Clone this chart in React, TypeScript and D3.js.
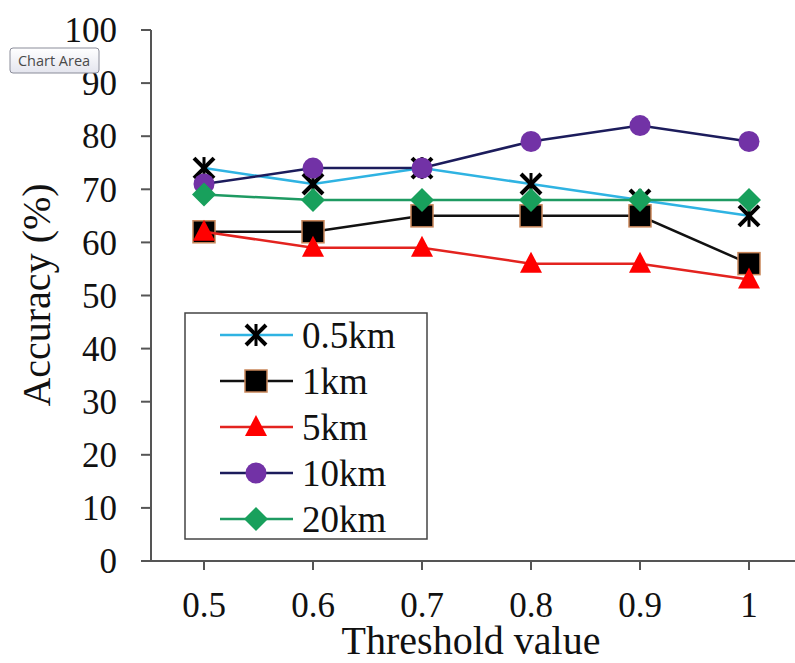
import React from 'react';
import * as d3 from 'd3';

const thresholds = ['0.5', '0.6', '0.7', '0.8', '0.9', '1'];
const yTicks = [0, 10, 20, 30, 40, 50, 60, 70, 80, 90, 100];

const seriesNames = ['0.5km', '1km', '5km', '10km', '20km'];
const acc05km = [74, 71, 74, 71, 68, 65];
const acc1km = [62, 62, 65, 65, 65, 56];
const acc5km = [62, 59, 59, 56, 56, 53];
const acc10km = [71, 74, 74, 79, 82, 79];
const acc20km = [69, 68, 68, 68, 68, 68];

type MarkerKind = 'star' | 'square' | 'triangle' | 'circle' | 'diamond';

const styles: { line: string; marker: MarkerKind }[] = [
  { line: '#2fb3e2', marker: 'star' },
  { line: '#111111', marker: 'square' },
  { line: '#e3231f', marker: 'triangle' },
  { line: '#1c1c5c', marker: 'circle' },
  { line: '#1e9a62', marker: 'diamond' },
];

const allValues = [acc05km, acc1km, acc5km, acc10km, acc20km];

const FONT = '"Liberation Serif", "Times New Roman", serif';

const Marker: React.FC<{ kind: MarkerKind; x: number; y: number }> = ({ kind, x, y }) => {
  switch (kind) {
    case 'star':
      return (
        <g stroke="#000" strokeWidth={4}>
          <line x1={x - 10} y1={y - 10} x2={x + 10} y2={y + 10} />
          <line x1={x - 10} y1={y + 10} x2={x + 10} y2={y - 10} />
          <line x1={x} y1={y - 11} x2={x} y2={y + 11} strokeWidth={3} />
        </g>
      );
    case 'square':
      return <rect x={x - 11} y={y - 11} width={22} height={22} fill="#000" stroke="#c9865a" strokeWidth={1.5} />;
    case 'triangle':
      return <path d={`M${x},${y - 12} L${x + 11},${y + 9} L${x - 11},${y + 9} Z`} fill="#ff0000" />;
    case 'circle':
      return <circle cx={x} cy={y} r={10.5} fill="#7232a6" />;
    case 'diamond':
      return <path d={`M${x},${y - 12} L${x + 12},${y} L${x},${y + 12} L${x - 12},${y} Z`} fill="#18a05c" />;
  }
};

const App: React.FC = () => {
  const width = 795;
  const height = 663;

  const x = d3.scalePoint<string>().domain(thresholds).range([204, 749]);
  const y = d3.scaleLinear().domain([0, 100]).range([561, 30]);

  const line = d3
    .line<number>()
    .x((_, i) => x(thresholds[i]) as number)
    .y((d) => y(d));

  const legendX = 185;
  const legendY = 313;
  const rowGap = 46;

  return (
    <svg
      width={width}
      height={height}
      style={{ position: 'absolute', left: 0, top: 0, background: '#fff' }}
      fontFamily={FONT}
    >
      {/* axes */}
      <line x1={151} y1={y(100)} x2={151} y2={y(0)} stroke="#555" strokeWidth={2} />
      <line x1={151} y1={y(0)} x2={795} y2={y(0)} stroke="#555" strokeWidth={2} />
      {yTicks.map((t) => (
        <g key={t}>
          <line x1={141} y1={y(t)} x2={151} y2={y(t)} stroke="#555" strokeWidth={2} />
          <text x={117} y={y(t)} dy="0.35em" textAnchor="end" fontSize={35} fill="#111">
            {t}
          </text>
        </g>
      ))}
      {thresholds.map((t) => (
        <g key={t}>
          <line x1={x(t)} y1={y(0)} x2={x(t)} y2={y(0) + 9} stroke="#555" strokeWidth={2} />
          <text x={x(t)} y={617} textAnchor="middle" fontSize={35} fill="#111">
            {t}
          </text>
        </g>
      ))}
      <text
        transform={`translate(50, 295) rotate(-90)`}
        textAnchor="middle"
        fontSize={40}
        fill="#111"
      >
        Accuracy (%)
      </text>
      <text x={471} y={654} textAnchor="middle" fontSize={40} fill="#111">
        Threshold value
      </text>

      {/* series */}
      {allValues.map((vals, si) => (
        <g key={seriesNames[si]}>
          <path d={line(vals) ?? ''} fill="none" stroke={styles[si].line} strokeWidth={2.5} />
          {vals.map((v, i) => (
            <Marker key={i} kind={styles[si].marker} x={x(thresholds[i]) as number} y={y(v)} />
          ))}
        </g>
      ))}

      {/* legend */}
      <rect x={legendX} y={legendY} width={242} height={226} fill="#fff" stroke="#444" strokeWidth={1.5} />
      {seriesNames.map((name, si) => {
        const cy = legendY + 22 + si * rowGap;
        return (
          <g key={name}>
            <line x1={220} y1={cy} x2={293} y2={cy} stroke={styles[si].line} strokeWidth={2.5} />
            <Marker kind={styles[si].marker} x={256} y={cy} />
            <text x={302} y={cy} dy="0.35em" fontSize={37} fill="#111">
              {name}
            </text>
          </g>
        );
      })}

      {/* "Chart Area" tooltip */}
      <defs>
        <linearGradient id="tipGrad" x1="0" y1="0" x2="0" y2="1">
          <stop offset="0" stopColor="#ffffff" />
          <stop offset="1" stopColor="#e4e5ee" />
        </linearGradient>
      </defs>
      <rect x={10} y={48} width={89} height={25} rx={3} fill="url(#tipGrad)" stroke="#8a8c99" strokeWidth={1} />
      <text x={54} y={61} dy="0.35em" textAnchor="middle" fontSize={14.5} fill="#4a4a4a" fontFamily='"Open Sans", "DejaVu Sans", sans-serif'>
        Chart Area
      </text>
    </svg>
  );
};

export default App;
